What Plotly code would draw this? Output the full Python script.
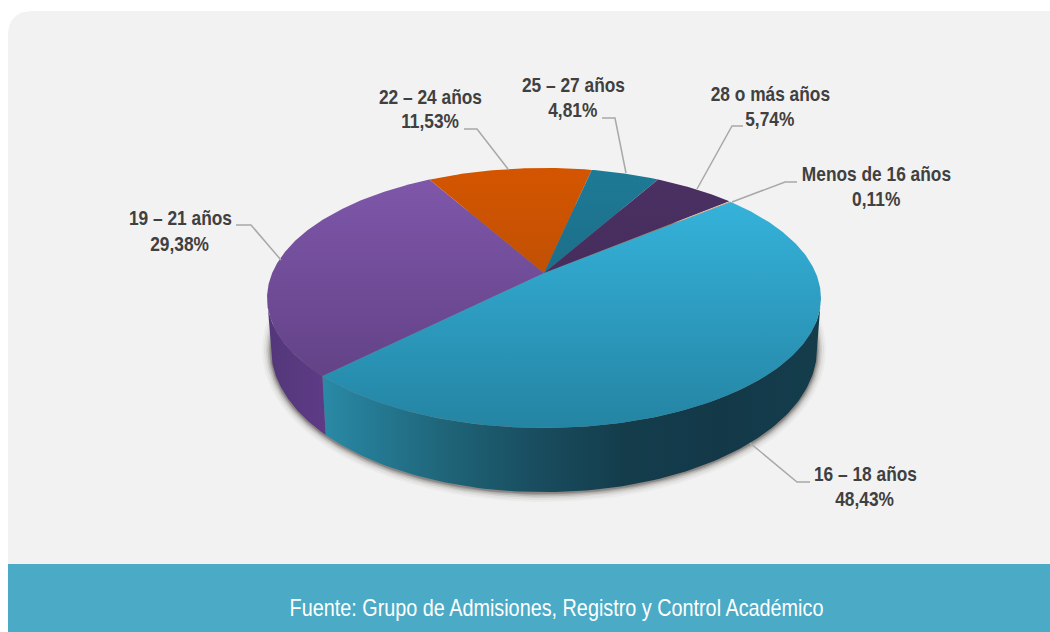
import numpy as np
import plotly.graph_objects as go

# ---- data, clockwise from the start angle
categories = ["16 – 18 años", "19 – 21 años", "22 – 24 años", "25 – 27 años", "28 o más años", "Menos de 16 años"]
values = [48.43, 29.38, 11.53, 4.81, 5.74, 0.11]

# ---- style and layout
top_colors = [("#35B2DA", "#2484A3"), ("#8058AC", "#5C3D7E"), ("#D45500", "#A54A0A"),
              ("#1E7A96", "#195E77"), ("#4B3163", "#3C2755"), ("#C86A20", "#A85A20")]
label_xy = [(865, 473.5, 498.5), (180, 217.5, 243.5), (430, 96.5, 120.5), (573, 84.5, 109.5),
            (770, 93.5, 118.5), (876, 173.5, 198.5)]
leaders = [[(810, 482), (797, 482), (750, 443)], [(236, 225), (251, 225), (281, 260)],
           [(464, 129), (477, 129), (508, 169)], [(602, 118), (615, 118), (626, 173)],
           [(743, 126), (732, 126), (697, 189)], [(797, 182), (785, 182), (732, 202)]]
START = 50.4
K = 0.192
CX = 544


def rim(t_deg, a, b, cy):
    t = np.radians(t_deg)
    u, v = np.sin(t), np.cos(t)
    d = 1 + K * v
    return CX + a * u / d, cy - b * v / d


TOP = (271.8, 125.2, 273)
BOT = (267.9, 137.8, 321.6)

edges = START + np.cumsum([0] + values) * 3.6
t_right = np.degrees(np.arccos(-K))
t_left = 360 - t_right

fig = go.Figure()

# soft shadow under the disc
th = np.linspace(0, 2 * np.pi, 240)
for d, alpha in [(9, .03), (7, .05), (5, .08), (3.5, .12), (2, .16), (1, .2)]:
    fig.add_trace(go.Scatter(x=CX + (273 + d) * np.cos(th), y=350 + (143 + d) * np.sin(th), mode="lines",
                             line=dict(width=0), fill="toself", fillcolor=f"rgba(40,30,25,{alpha})",
                             hoverinfo="skip"))


# side walls
def wall(t0, t1, stops):
    ts = np.linspace(t0, t1, 120)
    xt, yt = rim(ts, *TOP)
    xb, yb = rim(ts, *BOT)
    x0, x1 = min(xt.min(), xb.min()), max(xt.max(), xb.max())
    fig.add_trace(go.Scatter(x=np.r_[xt, xb[::-1]], y=np.r_[yt, yb[::-1]], mode="lines", line=dict(width=0),
                             fill="toself", hoverinfo="skip",
                             fillgradient=dict(type="horizontal", start=x0, stop=x1, colorscale=stops)))


wall(t_right, edges[1], [[0, "#2A8AA6"], [.1, "#257A94"], [.25, "#1F6478"], [.42, "#194E60"],
                         [.6, "#143D4C"], [.8, "#133949"], [1, "#143D4C"]])
wall(edges[1], t_left, [[0, "#53377A"], [1, "#5E3B86"]])

# top faces
for i, (cat, val) in enumerate(zip(categories, values)):
    ts = np.linspace(edges[i], edges[i + 1], max(3, int(val * 6)))
    xr, yr = rim(ts, *TOP)
    c0, c1 = top_colors[i]
    fig.add_trace(go.Scatter(x=np.r_[CX, xr, CX], y=np.r_[TOP[2], yr, TOP[2]], mode="lines", line=dict(width=0),
                             fill="toself", name=cat, hoverinfo="name",
                             fillgradient=dict(type="vertical", start=168, stop=428,
                                               colorscale=[[0, c0], [1, c1]]) if i != 0 else
                             dict(type="vertical", start=203, stop=428, colorscale=[[0, c0], [1, c1]])))

# leader lines
for pts in leaders:
    fig.add_trace(go.Scatter(x=[p[0] for p in pts], y=[p[1] for p in pts], mode="lines",
                             line=dict(color="#A8A8A8", width=1.5), hoverinfo="skip"))

TXT = dict(family="Liberation Sans", size=21, color="#404040", weight="bold")
anns = []
for cat, val, (x, y1, y2) in zip(categories, values, label_xy):
    for txt, y in ((cat, y1), (f"{val:.2f}".replace(".", ",") + "%", y2)):
        anns.append(dict(x=x, y=y, text=txt, showarrow=False, xanchor="center", yanchor="middle", font=TXT))
anns.append(dict(x=556, y=607.5, text="Fuente: Grupo de Admisiones, Registro y Control Académico", showarrow=False,
                 xanchor="center", yanchor="middle",
                 font=dict(family="Liberation Sans", size=24, color="#FFFFFF")))

fig.update_layout(
    width=1050, height=632, margin=dict(l=0, r=0, t=0, b=0), showlegend=False,
    paper_bgcolor="#FFFFFF", plot_bgcolor="rgba(0,0,0,0)", annotations=anns,
    xaxis=dict(range=[0, 1050], visible=False, fixedrange=True),
    yaxis=dict(range=[632, 0], visible=False, fixedrange=True),
    shapes=[
        dict(type="path", path="M 8 564 L 8 36 Q 8 11 33 11 L 1050 11 L 1050 564 Z", fillcolor="#F2F2F2",
             line=dict(width=0), layer="below"),
        dict(type="rect", x0=8, x1=1050, y0=564, y1=632, fillcolor="#4BABC6", line=dict(width=0), layer="below"),
    ],
)
# Arial Narrow-style look: keep the real text, squeeze its glyphs horizontally
POST = """
document.body.style.margin='0';document.body.style.overflow='hidden';
function squeeze(){
  document.querySelectorAll('.annotation-text').forEach(function(t){
    if(t.getAttribute('data-sq'))return;
    var w=t.getComputedTextLength();
    if(!w)return;
    t.setAttribute('textLength',(w*0.825).toFixed(1));
    t.setAttribute('lengthAdjust','spacingAndGlyphs');
    t.setAttribute('data-sq','1');
  });
}
squeeze();requestAnimationFrame(squeeze);setTimeout(squeeze,50);
"""
fig.write_html("out.html", config=dict(displayModeBar=False), post_script=POST)
